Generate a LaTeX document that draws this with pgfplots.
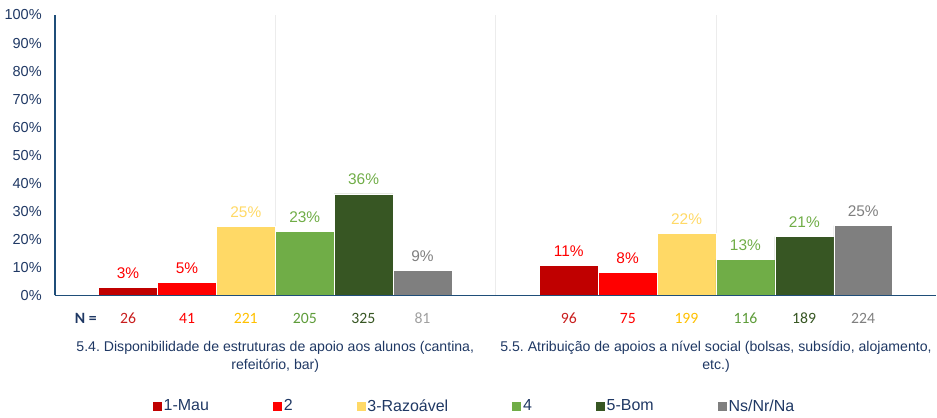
\documentclass[border=0pt]{standalone}
\usepackage{fontspec}
\setmainfont{Liberation Sans}
\newfontfamily\calib{Carlito}
\usepackage{pgfplots}
\pgfplotsset{compat=1.18}
\frenchspacing
\definecolor{cMau}{HTML}{C00000}
\definecolor{cDois}{HTML}{FF0000}
\definecolor{cRaz}{HTML}{FFD966}
\definecolor{cQuatro}{HTML}{70AD47}
\definecolor{cBom}{HTML}{375623}
\definecolor{cNs}{HTML}{7F7F7F}
\definecolor{axblue}{HTML}{1F4E79}
\definecolor{txblue}{HTML}{1F3864}
\definecolor{nMau}{HTML}{C81E1E}
\definecolor{nRaz}{HTML}{FFC000}
\definecolor{nQuatro}{HTML}{5E9C3A}
\definecolor{nNs}{HTML}{A0A0A0}
\begin{document}
\begin{tikzpicture}
\begin{axis}[
  at={(0pt,0pt)}, anchor=south west,
  scale only axis,
  width=662.25pt, height=210.75pt,
  xmin=-0.5, xmax=1.5,
  ymin=0, ymax=100,
  axis lines*=left,
  axis line style={axblue, line width=1pt},
  ybar=0pt,
  bar width=44.25pt,
  xtick={0,1},
  xticklabels={{5.4. Disponibilidade de estruturas de apoio aos alunos (cantina,\\refeitório, bar)},{5.5. Atribuição de apoios a nível social (bolsas, subsídio, alojamento,\\etc.)}},
  xticklabel style={anchor=center, yshift=-46pt, align=center, text=txblue, font=\fontsize{10.6}{13.5}\selectfont},
  xmajorgrids,
  x grid style={gray!15, line width=0.6pt},
  extra x ticks={0.5},
  extra x tick labels={},
  extra x tick style={grid style={axblue, line width=1pt}, major tick length=0pt},
  ytick={0,10,...,100},
  yticklabel={\pgfmathprintnumber{\tick}\%},
  /pgf/number format/assume math mode=true,
  yticklabel style={text=txblue, inner sep=0pt, xshift=-9.75pt, font=\fontsize{10.9}{13}\selectfont},
  major tick length=0pt,
  tick style={draw=none},
  nodes near coords={\pgfmathprintnumber[fixed,precision=0]{\pgfplotspointmeta}\%},
  nodes near coords style={anchor=south, inner sep=0pt, yshift=6.5pt, font=\fontsize{11.6}{13}\selectfont},
  legend columns=6,
  legend style={draw=none, fill=none, at={(0.476,-0.395)}, anchor=center,
    font=\fontsize{12}{14}\selectfont, text=txblue,
    /tikz/every even column/.append style={column sep=47pt},
    nodes={inner sep=1.2pt}},
  legend image code/.code={\fill[#1, draw=none] (0pt,-3.4pt) rectangle (6.8pt,3.4pt);},
  clip=false,
]
\addplot[fill=cMau, draw=white, line width=0.4pt, every node near coord/.append style={text=cDois}] coordinates {(0,2.9) (1,10.7)};
\addplot[fill=cDois, draw=white, line width=0.4pt, every node near coord/.append style={text=cDois}] coordinates {(0,4.6) (1,8.3)};
\addplot[fill=cRaz, draw=white, line width=0.4pt, every node near coord/.append style={text=cRaz}] coordinates {(0,24.6) (1,22.1)};
\addplot[fill=cQuatro, draw=white, line width=0.4pt, every node near coord/.append style={text=cQuatro}] coordinates {(0,22.8) (1,12.9)};
\addplot[fill=cBom, draw=white, line width=0.4pt, every node near coord/.append style={text=cQuatro}] coordinates {(0,36.2) (1,21.0)};
\addplot[fill=cNs, draw=white, line width=0.4pt, every node near coord/.append style={text=cNs}] coordinates {(0,9.0) (1,24.9)};
\legend{1-Mau,2,3-Razoável,4,5-Bom,Ns/Nr/Na}
\draw[axblue, line width=1pt] (rel axis cs:0,0) -- (rel axis cs:1,0);
\node[anchor=base, text=txblue, font=\calib\bfseries\fontsize{11.8}{14}\selectfont] at (axis cs:-0.43,0) [yshift=-21pt] {N =};
\foreach \xx/\nn/\cc in {-0.334/26/nMau, -0.2/41/cDois, -0.067/221/nRaz, 0.067/205/nQuatro, 0.2/325/cBom, 0.334/81/nNs,
  0.666/96/nMau, 0.8/75/cDois, 0.933/199/nRaz, 1.067/116/nQuatro, 1.2/189/cBom, 1.334/224/cNs}{
  \edef\tmp{\noexpand\node[anchor=base, text=\cc, font=\noexpand\calib\noexpand\fontsize{11.8}{14}\noexpand\selectfont] at (axis cs:\xx,0) [yshift=-21pt] {\nn};}\tmp
}
\end{axis}
\useasboundingbox (-41.25pt,-90pt) rectangle (661.5pt,222pt);
\end{tikzpicture}
\end{document}
